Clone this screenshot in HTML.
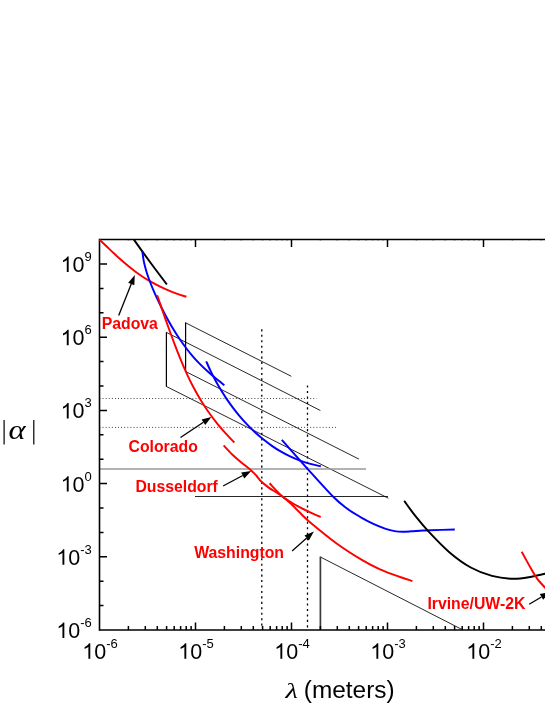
<!DOCTYPE html>
<html><head><meta charset="utf-8"><title>chart</title>
<style>html,body{margin:0;padding:0;background:#fff;}body{width:545px;height:705px;overflow:hidden;position:relative;font-family:"Liberation Sans",sans-serif;}</style></head>
<body>
<svg width="545" height="705" viewBox="0 0 545 705" style="position:absolute;left:0;top:0;will-change:transform">
<rect width="545" height="705" fill="#fff"/>
<path d="M195,496.5 H388 M388.3,498.2 L166.4,386.5 M166.4,332.4 L320.4,410.5" fill="none" stroke="#000" stroke-width="0.85"/>
<path d="M291.3,376.3 L185.6,322.8 M185.6,371.5 L358.9,459.1" fill="none" stroke="#000" stroke-width="0.85"/>
<path d="M320.4,557 L463,630" fill="none" stroke="#000" stroke-width="0.85"/>
<path d="M320.4,630 V556.6" fill="none" stroke="#3a3a3a" stroke-width="1.7"/>
<path d="M166.4,386.7 V332.2 M185.6,322.6 V371.7" fill="none" stroke="#000" stroke-width="1.2"/>
<path d="M99.5,469 H366" fill="none" stroke="#999" stroke-width="1.6"/>
<path d="M99.5,398.5 H316.8" fill="none" stroke="#000" stroke-width="0.85" stroke-dasharray="0.85,2.25"/>
<path d="M99.5,427.4 H336.2" fill="none" stroke="#000" stroke-width="0.85" stroke-dasharray="0.85,2.25"/>
<path d="M261.8,329.3 V629" fill="none" stroke="#000" stroke-width="1.3" stroke-dasharray="2.1,3.35"/>
<path d="M307.5,385.5 V629" fill="none" stroke="#000" stroke-width="1.3" stroke-dasharray="2.1,3.35"/>
<path d="M99.5,238.7 V630.8" stroke="#000" stroke-width="1.6" fill="none"/>
<path d="M99.5,239.5 H545" stroke="#000" stroke-width="1.6" fill="none"/>
<path d="M99.5,630.0 H545" stroke="#000" stroke-width="1.6" fill="none"/>
<path d="M128.40,630.0 v-4 M128.40,239.5 v0.65 M145.30,630.0 v-4 M145.30,239.5 v0.65 M157.30,630.0 v-4 M157.30,239.5 v0.65 M166.60,630.0 v-4 M166.60,239.5 v0.65 M174.20,630.0 v-4 M174.20,239.5 v0.65 M180.63,630.0 v-4 M180.63,239.5 v0.65 M186.20,630.0 v-4 M186.20,239.5 v0.65 M191.11,630.0 v-4 M191.11,239.5 v0.65 M195.50,630.0 v-7.5 M195.50,239.5 v7.5 M224.40,630.0 v-4 M224.40,239.5 v0.65 M241.30,630.0 v-4 M241.30,239.5 v0.65 M253.30,630.0 v-4 M253.30,239.5 v0.65 M262.60,630.0 v-4 M262.60,239.5 v0.65 M270.20,630.0 v-4 M270.20,239.5 v0.65 M276.63,630.0 v-4 M276.63,239.5 v0.65 M282.20,630.0 v-4 M282.20,239.5 v0.65 M287.11,630.0 v-4 M287.11,239.5 v0.65 M291.50,630.0 v-7.5 M291.50,239.5 v7.5 M320.40,630.0 v-4 M320.40,239.5 v0.65 M337.30,630.0 v-4 M337.30,239.5 v0.65 M349.30,630.0 v-4 M349.30,239.5 v0.65 M358.60,630.0 v-4 M358.60,239.5 v0.65 M366.20,630.0 v-4 M366.20,239.5 v0.65 M372.63,630.0 v-4 M372.63,239.5 v0.65 M378.20,630.0 v-4 M378.20,239.5 v0.65 M383.11,630.0 v-4 M383.11,239.5 v0.65 M387.50,630.0 v-7.5 M387.50,239.5 v7.5 M416.40,630.0 v-4 M416.40,239.5 v0.65 M433.30,630.0 v-4 M433.30,239.5 v0.65 M445.30,630.0 v-4 M445.30,239.5 v0.65 M454.60,630.0 v-4 M454.60,239.5 v0.65 M462.20,630.0 v-4 M462.20,239.5 v0.65 M468.63,630.0 v-4 M468.63,239.5 v0.65 M474.20,630.0 v-4 M474.20,239.5 v0.65 M479.11,630.0 v-4 M479.11,239.5 v0.65 M483.50,630.0 v-7.5 M483.50,239.5 v7.5 M512.40,630.0 v-4 M512.40,239.5 v0.65 M529.30,630.0 v-4 M529.30,239.5 v0.65 M541.30,630.0 v-4 M541.30,239.5 v0.65 M99.5,605.60 h4 M99.5,581.20 h4 M99.5,556.80 h7.5 M99.5,532.40 h4 M99.5,508.00 h4 M99.5,483.60 h7.5 M99.5,459.20 h4 M99.5,434.80 h4 M99.5,410.40 h7.5 M99.5,386.00 h4 M99.5,361.60 h4 M99.5,337.20 h7.5 M99.5,312.80 h4 M99.5,288.40 h4 M99.5,264.00 h7.5" stroke="#000" stroke-width="1.5" fill="none"/>
<path d="M133.90,239.60 C136.58,243.33 144.50,254.52 150.00,262.00 C155.50,269.48 164.08,280.75 166.90,284.50" fill="none" stroke="#000000" stroke-width="1.95" stroke-linecap="butt"/>
<path d="M99.50,239.60 C100.65,240.70 104.09,244.00 106.39,246.20 C108.70,248.40 110.99,250.64 113.32,252.83 C115.64,255.02 117.98,257.20 120.37,259.33 C122.76,261.46 125.17,263.56 127.64,265.58 C130.10,267.61 132.61,269.59 135.17,271.48 C137.74,273.37 140.35,275.20 143.02,276.95 C145.68,278.69 148.41,280.35 151.18,281.93 C153.95,283.50 156.78,284.99 159.64,286.39 C162.51,287.80 165.43,289.11 168.38,290.34 C171.33,291.58 174.32,292.72 177.32,293.80 C180.33,294.87 184.89,296.30 186.40,296.80" fill="none" stroke="#ff0000" stroke-width="1.95" stroke-linecap="butt"/>
<path d="M142.30,251.10 C142.57,252.90 143.18,258.37 143.91,261.88 C144.63,265.40 145.60,268.82 146.64,272.21 C147.69,275.61 148.90,278.93 150.17,282.25 C151.43,285.57 152.81,288.85 154.23,292.12 C155.66,295.39 157.16,298.63 158.70,301.86 C160.24,305.09 161.84,308.30 163.49,311.48 C165.13,314.67 166.83,317.84 168.58,320.96 C170.33,324.09 172.13,327.20 174.00,330.25 C175.88,333.30 177.80,336.32 179.81,339.28 C181.82,342.23 183.89,345.14 186.05,347.98 C188.22,350.81 190.46,353.59 192.79,356.29 C195.12,358.98 197.54,361.61 200.04,364.16 C202.54,366.71 205.13,369.18 207.78,371.58 C210.44,373.98 213.18,376.30 215.95,378.57 C218.72,380.84 222.99,384.10 224.40,385.20" fill="none" stroke="#0000ff" stroke-width="1.95" stroke-linecap="butt"/>
<path d="M206.20,361.30 C206.95,362.95 209.12,367.95 210.69,371.19 C212.25,374.44 213.89,377.63 215.60,380.78 C217.31,383.93 219.09,387.04 220.95,390.10 C222.82,393.16 224.75,396.18 226.77,399.15 C228.78,402.12 230.88,405.04 233.05,407.91 C235.22,410.78 237.47,413.60 239.80,416.35 C242.13,419.10 244.54,421.79 247.03,424.40 C249.52,427.01 252.09,429.56 254.73,432.01 C257.38,434.46 260.11,436.84 262.91,439.10 C265.71,441.36 268.59,443.53 271.54,445.58 C274.49,447.62 277.52,449.57 280.62,451.37 C283.71,453.18 286.88,454.86 290.12,456.40 C293.35,457.94 296.66,459.35 300.02,460.61 C303.38,461.86 306.81,462.97 310.29,463.92 C313.77,464.87 319.13,465.90 320.90,466.30" fill="none" stroke="#0000ff" stroke-width="1.95" stroke-linecap="butt"/>
<path d="M281.80,439.80 C286.08,444.63 298.93,459.30 307.50,468.80 C316.07,478.30 326.62,490.18 333.20,496.80 C339.78,503.42 342.53,505.17 347.00,508.50 C351.47,511.83 355.70,514.28 360.00,516.80 C364.30,519.32 368.52,521.60 372.80,523.60 C377.08,525.60 382.05,527.55 385.70,528.80 C389.35,530.05 391.92,530.62 394.70,531.10 C397.48,531.58 399.62,531.67 402.40,531.70 C405.18,531.73 408.40,531.47 411.40,531.30 C414.40,531.13 417.30,530.88 420.40,530.70 C423.50,530.52 424.27,530.40 430.00,530.20 C435.73,530.00 450.67,529.62 454.80,529.50" fill="none" stroke="#0000ff" stroke-width="1.95" stroke-linecap="butt"/>
<path d="M157.20,295.20 C157.89,297.24 159.96,303.36 161.36,307.43 C162.77,311.50 164.20,315.56 165.64,319.62 C167.07,323.68 168.52,327.74 170.00,331.79 C171.47,335.83 172.95,339.88 174.48,343.91 C176.01,347.94 177.56,351.97 179.17,355.96 C180.78,359.96 182.43,363.94 184.16,367.88 C185.89,371.83 187.67,375.75 189.56,379.62 C191.45,383.48 193.41,387.32 195.49,391.09 C197.56,394.86 199.73,398.58 202.02,402.23 C204.30,405.88 206.70,409.47 209.20,412.98 C211.70,416.49 214.33,419.93 217.04,423.29 C219.75,426.65 222.58,429.93 225.45,433.13 C228.33,436.33 232.83,440.94 234.30,442.50" fill="none" stroke="#ff0000" stroke-width="1.95" stroke-linecap="butt"/>
<path d="M223.70,445.40 C225.17,446.95 229.57,451.87 232.50,454.70 C235.43,457.53 238.18,459.78 241.30,462.40 C244.42,465.02 248.70,468.22 251.20,470.40 C253.70,472.58 254.67,473.68 256.30,475.50 C257.93,477.32 258.93,479.28 261.00,481.30 C263.07,483.32 266.13,485.73 268.70,487.60 C271.27,489.47 274.02,490.95 276.40,492.50 C278.78,494.05 280.62,495.07 283.00,496.90 C285.38,498.73 287.95,500.93 290.70,503.50 C293.45,506.07 296.28,509.18 299.50,512.30 C302.72,515.42 303.75,516.97 310.00,522.20 C316.25,527.43 328.22,537.33 337.00,543.70 C345.78,550.07 355.53,556.13 362.70,560.40 C369.87,564.67 373.78,566.53 380.00,569.30 C386.22,572.07 394.60,575.03 400.00,577.00 C405.40,578.97 410.33,580.42 412.40,581.10" fill="none" stroke="#ff0000" stroke-width="1.95" stroke-linecap="butt"/>
<path d="M269.60,483.30 C271.85,485.60 278.50,493.33 283.10,497.10 C287.70,500.87 292.88,503.45 297.20,505.90 C301.52,508.35 305.08,509.93 309.00,511.80 C312.92,513.67 318.75,516.22 320.70,517.10" fill="none" stroke="#ff0000" stroke-width="1.95" stroke-linecap="butt"/>
<path d="M404.20,500.90 C406.08,503.45 411.47,511.13 415.50,516.20 C419.53,521.27 422.72,525.27 428.40,531.30 C434.08,537.33 442.53,546.37 449.60,552.40 C456.67,558.43 463.73,563.58 470.80,567.50 C477.87,571.42 484.93,574.02 492.00,575.90 C499.07,577.78 506.63,578.67 513.20,578.80 C519.77,578.93 525.60,577.67 531.40,576.70 C537.20,575.73 545.23,573.62 548.00,573.00" fill="none" stroke="#000000" stroke-width="1.95" stroke-linecap="butt"/>
<path d="M521.70,551.70 C523.38,554.75 529.20,565.48 531.80,570.00 C534.40,574.52 535.10,575.87 537.30,578.80 C539.50,581.73 543.22,585.65 545.00,587.60 C546.78,589.55 547.50,590.02 548.00,590.50" fill="none" stroke="#ff0000" stroke-width="1.95" stroke-linecap="butt"/>
<path d="M118.70,315.60 L131.25,284.02" stroke="#000" stroke-width="1.3" fill="none"/><path d="M134.80,275.10 L134.32,285.24 L128.19,282.80 Z" fill="#000"/>
<path d="M180.50,437.50 L203.41,422.23" stroke="#000" stroke-width="1.3" fill="none"/><path d="M211.40,416.90 L205.24,424.97 L201.58,419.48 Z" fill="#000"/>
<path d="M223.10,486.00 L242.73,475.52" stroke="#000" stroke-width="1.3" fill="none"/><path d="M251.20,471.00 L244.29,478.43 L241.18,472.61 Z" fill="#000"/>
<path d="M292.10,550.90 L306.71,537.96" stroke="#000" stroke-width="1.3" fill="none"/><path d="M313.90,531.60 L308.90,540.43 L304.52,535.49 Z" fill="#000"/>
<path d="M529.20,604.30 L541.47,596.94" stroke="#000" stroke-width="1.3" fill="none"/><path d="M549.70,592.00 L543.17,599.77 L539.77,594.11 Z" fill="#000"/>
<text x="101.7" y="328.8" font-family="Liberation Sans, sans-serif" font-weight="bold" font-size="15.8" fill="#ff0000" text-anchor="start">Padova</text>
<text x="197.8" y="451.8" font-family="Liberation Sans, sans-serif" font-weight="bold" font-size="15.8" fill="#ff0000" text-anchor="end">Colorado</text>
<text x="217.9" y="491.8" font-family="Liberation Sans, sans-serif" font-weight="bold" font-size="15.8" fill="#ff0000" text-anchor="end">Dusseldorf</text>
<text x="284.0" y="557.9" font-family="Liberation Sans, sans-serif" font-weight="bold" font-size="15.8" fill="#ff0000" text-anchor="end">Washington</text>
<text x="427.4" y="608.7" font-family="Liberation Sans, sans-serif" font-weight="bold" font-size="15.8" fill="#ff0000" text-anchor="start">Irvine/UW-2K</text>
<path d="M763 0H583V1147Q518 1085 412.5 1023Q307 961 223 930V1104Q374 1175 487 1276Q600 1377 647 1472H763Z" transform="translate(82.27,658.70) scale(0.01050,-0.01050)" fill="#000"/><text x="94.22" y="658.70" font-family="Liberation Sans, sans-serif" font-size="21.5" fill="#000">0</text><text x="106.18" y="647.70" font-family="Liberation Sans, sans-serif" font-size="13" fill="#000">-6</text>
<path d="M763 0H583V1147Q518 1085 412.5 1023Q307 961 223 930V1104Q374 1175 487 1276Q600 1377 647 1472H763Z" transform="translate(178.27,658.70) scale(0.01050,-0.01050)" fill="#000"/><text x="190.22" y="658.70" font-family="Liberation Sans, sans-serif" font-size="21.5" fill="#000">0</text><text x="202.18" y="647.70" font-family="Liberation Sans, sans-serif" font-size="13" fill="#000">-5</text>
<path d="M763 0H583V1147Q518 1085 412.5 1023Q307 961 223 930V1104Q374 1175 487 1276Q600 1377 647 1472H763Z" transform="translate(274.27,658.70) scale(0.01050,-0.01050)" fill="#000"/><text x="286.22" y="658.70" font-family="Liberation Sans, sans-serif" font-size="21.5" fill="#000">0</text><text x="298.18" y="647.70" font-family="Liberation Sans, sans-serif" font-size="13" fill="#000">-4</text>
<path d="M763 0H583V1147Q518 1085 412.5 1023Q307 961 223 930V1104Q374 1175 487 1276Q600 1377 647 1472H763Z" transform="translate(370.27,658.70) scale(0.01050,-0.01050)" fill="#000"/><text x="382.22" y="658.70" font-family="Liberation Sans, sans-serif" font-size="21.5" fill="#000">0</text><text x="394.18" y="647.70" font-family="Liberation Sans, sans-serif" font-size="13" fill="#000">-3</text>
<path d="M763 0H583V1147Q518 1085 412.5 1023Q307 961 223 930V1104Q374 1175 487 1276Q600 1377 647 1472H763Z" transform="translate(466.27,658.70) scale(0.01050,-0.01050)" fill="#000"/><text x="478.22" y="658.70" font-family="Liberation Sans, sans-serif" font-size="21.5" fill="#000">0</text><text x="490.18" y="647.70" font-family="Liberation Sans, sans-serif" font-size="13" fill="#000">-2</text>
<path d="M763 0H583V1147Q518 1085 412.5 1023Q307 961 223 930V1104Q374 1175 487 1276Q600 1377 647 1472H763Z" transform="translate(60.66,272.00) scale(0.01050,-0.01050)" fill="#000"/><text x="72.62" y="272.00" font-family="Liberation Sans, sans-serif" font-size="21.5" fill="#000">0</text><text x="84.57" y="261.00" font-family="Liberation Sans, sans-serif" font-size="13" fill="#000">9</text>
<path d="M763 0H583V1147Q518 1085 412.5 1023Q307 961 223 930V1104Q374 1175 487 1276Q600 1377 647 1472H763Z" transform="translate(60.66,345.20) scale(0.01050,-0.01050)" fill="#000"/><text x="72.62" y="345.20" font-family="Liberation Sans, sans-serif" font-size="21.5" fill="#000">0</text><text x="84.57" y="334.20" font-family="Liberation Sans, sans-serif" font-size="13" fill="#000">6</text>
<path d="M763 0H583V1147Q518 1085 412.5 1023Q307 961 223 930V1104Q374 1175 487 1276Q600 1377 647 1472H763Z" transform="translate(60.66,418.40) scale(0.01050,-0.01050)" fill="#000"/><text x="72.62" y="418.40" font-family="Liberation Sans, sans-serif" font-size="21.5" fill="#000">0</text><text x="84.57" y="407.40" font-family="Liberation Sans, sans-serif" font-size="13" fill="#000">3</text>
<path d="M763 0H583V1147Q518 1085 412.5 1023Q307 961 223 930V1104Q374 1175 487 1276Q600 1377 647 1472H763Z" transform="translate(60.66,491.60) scale(0.01050,-0.01050)" fill="#000"/><text x="72.62" y="491.60" font-family="Liberation Sans, sans-serif" font-size="21.5" fill="#000">0</text><text x="84.57" y="480.60" font-family="Liberation Sans, sans-serif" font-size="13" fill="#000">0</text>
<path d="M763 0H583V1147Q518 1085 412.5 1023Q307 961 223 930V1104Q374 1175 487 1276Q600 1377 647 1472H763Z" transform="translate(56.33,564.80) scale(0.01050,-0.01050)" fill="#000"/><text x="68.29" y="564.80" font-family="Liberation Sans, sans-serif" font-size="21.5" fill="#000">0</text><text x="80.24" y="553.80" font-family="Liberation Sans, sans-serif" font-size="13" fill="#000">-3</text>
<path d="M763 0H583V1147Q518 1085 412.5 1023Q307 961 223 930V1104Q374 1175 487 1276Q600 1377 647 1472H763Z" transform="translate(56.33,638.00) scale(0.01050,-0.01050)" fill="#000"/><text x="68.29" y="638.00" font-family="Liberation Sans, sans-serif" font-size="21.5" fill="#000">0</text><text x="80.24" y="627.00" font-family="Liberation Sans, sans-serif" font-size="13" fill="#000">-6</text>
<path d="M4.1,420.1 V444.6 M33.8,420.1 V444.6" stroke="#000" stroke-width="1.2" fill="none"/>
<text transform="translate(8.6,439.2) scale(1.09,0.91)" font-family="Liberation Serif, serif" font-style="italic" font-size="30" fill="#000">α</text>
<text transform="translate(285.5,697.9) scale(1.3,1)" font-family="Liberation Serif, serif" font-style="italic" font-size="22" fill="#000">λ</text>
<text x="303.8" y="697.9" font-family="Liberation Sans, sans-serif" font-size="24.4" fill="#000">(meters)</text>
</svg>
</body></html>
